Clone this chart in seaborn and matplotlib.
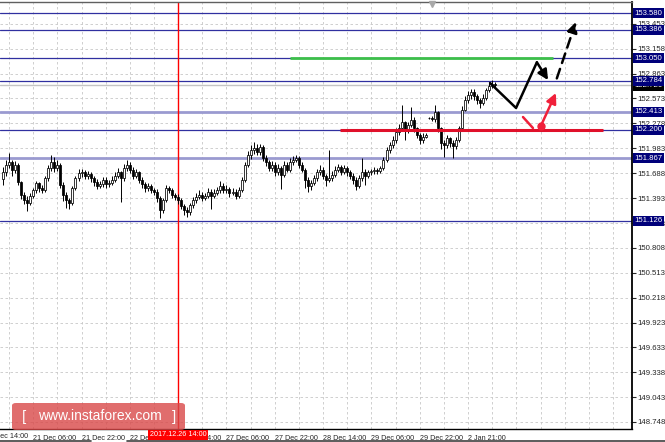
import matplotlib
matplotlib.use("Agg")
import matplotlib.pyplot as plt
import pandas as pd
import seaborn as sns
from matplotlib.patches import FancyBboxPatch
from matplotlib.lines import Line2D
from matplotlib.transforms import blended_transform_factory

# hourly candles (open = previous close)
closes = [
    151.70, 151.79, 151.82, 151.73, 151.79, 151.58, 151.43, 151.37, 151.34, 151.42,
    151.49, 151.57, 151.51, 151.49, 151.63, 151.75, 151.82, 151.75, 151.79, 151.55,
    151.43, 151.37, 151.34, 151.51, 151.63, 151.69, 151.70, 151.66, 151.68, 151.63,
    151.58, 151.54, 151.56, 151.61, 151.56, 151.57, 151.61, 151.66, 151.70, 151.63,
    151.75, 151.79, 151.73, 151.66, 151.70, 151.61, 151.56, 151.51, 151.54, 151.49,
    151.47, 151.40, 151.25, 151.37, 151.51, 151.49, 151.43, 151.41, 151.37, 151.30,
    151.25, 151.23, 151.31, 151.37, 151.41, 151.43, 151.40, 151.42, 151.47, 151.42,
    151.45, 151.49, 151.54, 151.49, 151.50, 151.45, 151.47, 151.42, 151.49, 151.61,
    151.79, 151.90, 151.96, 151.99, 151.94, 152.00, 151.87, 151.82, 151.75, 151.79,
    151.70, 151.75, 151.67, 151.79, 151.73, 151.82, 151.84, 151.87, 151.79, 151.73,
    151.61, 151.54, 151.57, 151.63, 151.70, 151.73, 151.66, 151.61, 151.63, 151.67,
    151.73, 151.76, 151.70, 151.75, 151.70, 151.66, 151.61, 151.54, 151.63, 151.70,
    151.66, 151.70, 151.71, 151.73, 151.71, 151.75, 151.84, 151.96, 152.02, 152.08,
    152.18, 152.22, 152.29, 152.20, 152.26, 152.32, 152.22, 152.14, 152.08, 152.12,
    152.14, 152.34, 152.33, 152.41, 152.22, 152.05, 152.02, 152.10, 152.05, 152.01,
    152.08, 152.22, 152.44, 152.55, 152.61, 152.65, 152.60, 152.55, 152.52, 152.58,
    152.67, 152.72, 152.74, 152.73,
]
highs = [
    151.76, 151.84, 151.93, 151.85, 151.83, 151.81, 151.60, 151.47, 151.42, 151.46,
    151.52, 151.60, 151.59, 151.55, 151.66, 151.79, 151.90, 151.88, 151.85, 151.81,
    151.58, 151.47, 151.40, 151.54, 151.66, 151.74, 151.74, 151.73, 151.72, 151.70,
    151.66, 151.62, 151.60, 151.65, 151.64, 151.61, 151.66, 151.70, 151.75, 151.72,
    151.80, 151.84, 151.82, 151.76, 151.74, 151.72, 151.64, 151.59, 151.57, 151.56,
    151.52, 151.50, 151.42, 151.40, 151.55, 151.54, 151.52, 151.46, 151.44, 151.40,
    151.33, 151.29, 151.34, 151.41, 151.45, 151.49, 151.47, 151.46, 151.52, 151.50,
    151.50, 151.53, 151.60, 151.57, 151.55, 151.53, 151.51, 151.50, 151.53, 151.65,
    151.82, 151.95, 152.02, 152.06, 152.03, 152.04, 152.02, 151.90, 151.85, 151.83,
    151.82, 151.80, 151.78, 151.83, 151.82, 151.87, 151.89, 151.90, 151.89, 151.82,
    151.75, 151.64, 151.61, 151.67, 151.74, 151.79, 151.76, 151.68, 151.96, 151.72,
    151.77, 151.80, 151.79, 151.79, 151.78, 151.73, 151.69, 151.64, 151.67, 151.87,
    151.74, 151.73, 151.74, 151.76, 151.75, 151.78, 151.88, 152.00, 152.06, 152.13,
    152.22, 152.27, 152.49, 152.31, 152.30, 152.47, 152.35, 152.24, 152.17, 152.16,
    152.17, 152.35, 152.36, 152.49, 152.43, 152.24, 152.08, 152.14, 152.12, 152.08,
    152.12, 152.25, 152.48, 152.60, 152.66, 152.69, 152.68, 152.63, 152.58, 152.62,
    152.70, 152.77, 152.79, 152.77,
]
lows = [
    151.55, 151.66, 151.75, 151.66, 151.69, 151.55, 151.38, 151.33, 151.24, 151.31,
    151.39, 151.46, 151.47, 151.45, 151.47, 151.60, 151.72, 151.70, 151.72, 151.52,
    151.36, 151.28, 151.27, 151.31, 151.49, 151.60, 151.65, 151.62, 151.62, 151.58,
    151.54, 151.50, 151.51, 151.53, 151.52, 151.53, 151.55, 151.59, 151.63, 151.35,
    151.60, 151.71, 151.69, 151.62, 151.63, 151.57, 151.52, 151.47, 151.48, 151.45,
    151.43, 151.35, 151.16, 151.22, 151.35, 151.46, 151.40, 151.37, 151.33, 151.26,
    151.20, 151.17, 151.20, 151.28, 151.34, 151.38, 151.36, 151.37, 151.39, 151.26,
    151.40, 151.43, 151.46, 151.45, 151.46, 151.41, 151.43, 151.38, 151.40, 151.47,
    151.58, 151.76, 151.86, 151.92, 151.90, 151.91, 151.83, 151.77, 151.71, 151.72,
    151.66, 151.67, 151.50, 151.64, 151.70, 151.70, 151.79, 151.82, 151.75, 151.70,
    151.52, 151.47, 151.49, 151.55, 151.60, 151.67, 151.62, 151.54, 151.58, 151.60,
    151.64, 151.70, 151.67, 151.68, 151.66, 151.62, 151.56, 151.49, 151.51, 151.60,
    151.55, 151.63, 151.67, 151.68, 151.68, 151.69, 151.73, 151.82, 151.93, 151.99,
    152.05, 152.14, 152.19, 152.08, 152.17, 152.23, 152.18, 152.10, 152.03, 152.05,
    152.10, 152.33, 152.31, 152.30, 152.18, 151.98, 151.88, 151.99, 152.00, 151.87,
    151.98, 152.06, 152.20, 152.42, 152.52, 152.57, 152.55, 152.51, 152.46, 152.49,
    152.56, 152.65, 152.70, 152.70,
]
first_open = 151.62
gap_opens = {141: 152.34}

levels_dark = [153.580, 153.386, 153.050, 152.784, 152.200, 151.126]
levels_light = [152.413, 151.867]
current_price = 152.726
price_ticks = [153.453, 153.158, 152.863, 152.573, 152.278, 151.983, 151.688, 151.393,
               151.098, 150.808, 150.513, 150.218, 149.923, 149.633, 149.338, 149.043, 148.748]

time_ticks = [-6, 10, 26, 42, 58, 74, 90, 106, 122, 138, 154]
time_labels = ["20 Dec 14:00", "21 Dec 06:00", "21 Dec 22:00", "22 Dec 14:00", "26 Dec 14:00",
               "27 Dec 06:00", "27 Dec 22:00", "28 Dec 14:00", "29 Dec 06:00", "29 Dec 22:00",
               "2 Jan 21:00"]
marker_idx = 58
marker_label = "2017.12.26 14:00"

# drawn forecast levels / arrows (candle index, price)
green_level, green_from, green_to = 153.050, 95.0, 182.1
red_level, red_from, red_to = 152.200, 111.6, 198.7
path_x = [161.3, 169.9, 176.8]
path_y = [152.755, 152.46, 153.00]
path_end = (180.5, 152.79)
dash_start, dash_end = (183.4, 152.81), (189.7, 153.476)
red_dash_x, red_dash_y = [172.2, 175.5], [152.353, 152.223]
red_dot = (178.1, 152.247)
red_arrow_end = (183.1, 152.637)

df = pd.DataFrame({"close": closes, "high": highs, "low": lows})
df["open"] = df["close"].shift(1).fillna(first_open)
for k, v in gap_opens.items():
    df.loc[k, "open"] = v
df["high"] = df[["high", "open", "close"]].max(axis=1)
df["low"] = df[["low", "open", "close"]].min(axis=1)
df["bull"] = df["close"] >= df["open"]

sns.set_style("white")
plt.rcParams["font.family"] = ["Liberation Sans", "DejaVu Sans"]

fig = plt.figure(figsize=(6.65, 4.42), dpi=100)
ax = fig.add_axes([0, 13 / 442, 632 / 665, 427 / 442])

# levels
ax.axhline(current_price, color="#c4c4c4", lw=1.0, zorder=1)
for lv in levels_light:
    ax.axhline(lv, color="#9a9ad0", lw=2.0, zorder=1)
for lv in levels_dark:
    ax.axhline(lv, color="#3030a0", lw=0.9, zorder=1)
ax.axvline(marker_idx, color="#ff0000", lw=1.0, zorder=1)

# candles
ax.vlines(df.index, df["low"], df["high"], color="black", lw=0.7, zorder=2)
body = (df["close"] - df["open"]).abs().clip(lower=0.006)
bottom = df[["open", "close"]].min(axis=1)
ax.bar(df.index, body, bottom=bottom, width=0.66,
       color=["white" if b else "black" for b in df["bull"]],
       edgecolor="black", linewidth=0.55, zorder=3)

# forecast drawing
ax.hlines(green_level, green_from, green_to, color="#3cbf4a", lw=2.0, zorder=4)
ax.hlines(red_level, red_from, red_to, color="#e0102a", lw=2.2, zorder=4)
sns.lineplot(x=path_x, y=path_y, sort=False, color="black", lw=1.8, ax=ax, zorder=5)
ax.annotate("", xy=path_end, xytext=(path_x[-1], path_y[-1]),
            arrowprops=dict(arrowstyle="-|>,head_length=0.6,head_width=0.3", color="black", lw=1.8,
                            shrinkA=0, shrinkB=0), zorder=5)
ax.annotate("", xy=dash_end, xytext=dash_start,
            arrowprops=dict(arrowstyle="-|>,head_length=0.6,head_width=0.3", color="black", lw=1.8,
                            linestyle=(0, (4, 2.5)), shrinkA=0, shrinkB=0), zorder=5)
ax.plot(red_dash_x, red_dash_y, color="#f0203a", lw=1.8, zorder=5)
ax.plot(*red_dot, "o", color="#f0203a", ms=5, zorder=6)
ax.annotate("", xy=red_arrow_end, xytext=red_dot,
            arrowprops=dict(arrowstyle="-|>,head_length=0.6,head_width=0.3", color="#f0203a", lw=1.8,
                            shrinkA=0, shrinkB=0), zorder=6)
ax.plot(142, 153.695, marker="v", color="#a8a8a8", ms=4, clip_on=False, zorder=6)

# ticks and grid; limits last, set_ticks widens the view otherwise
tick_fs = 5.2
ax.set_xticks(time_ticks[1:])
ax.set_xticks(range(2, 209, 8), minor=True)
ax.set_xticklabels(time_labels[1:], ha="left", fontsize=tick_fs)
ax.tick_params(axis="x", which="major", length=3, width=0.8, pad=1.5, color="black")
ax.tick_params(axis="x", which="minor", length=0)
ax.yaxis.tick_right()
ax.set_yticks(price_ticks)
ax.set_yticklabels([f"{p:.3f}" for p in price_ticks], fontsize=5.6)
ax.tick_params(axis="y", length=3, width=0.8, pad=1.2)
ax.grid(True, which="both", color="#c8c8c8", linestyle=(0, (3, 3)), linewidth=0.6)
ax.set_axisbelow(True)
ax.set_xlim(-1, 208.3)
ax.set_ylim(148.665, 153.713)

# first time label starts left of the chart and is cut by the figure edge
trx = blended_transform_factory(ax.transData, ax.transAxes)
ax.text(time_ticks[0], -4.5 / 427, time_labels[0], transform=trx, fontsize=tick_fs,
        ha="left", va="top", clip_on=False)

ax.spines["left"].set_visible(False)
ax.spines["right"].set_color("black")
ax.spines["right"].set_linewidth(1.3)
ax.spines["bottom"].set_color("black")
ax.spines["bottom"].set_linewidth(1.0)
ax.spines["top"].set_color("#606060")
ax.spines["top"].set_linewidth(1.0)

# right axis level boxes
tr = blended_transform_factory(ax.transAxes, ax.transData)
ax.text(1.004, current_price, f"{current_price:.3f}", transform=tr, fontsize=5.6, color="white",
        va="center", ha="left", clip_on=False, zorder=7,
        bbox=dict(boxstyle="square,pad=0.2", fc="black", ec="none"))
for lv in sorted(levels_dark + levels_light):
    ax.text(1.004, lv, f"{lv:.3f}", transform=tr, fontsize=5.6, color="white",
            va="center", ha="left", clip_on=False, zorder=8,
            bbox=dict(boxstyle="square,pad=0.2", fc="#00007a", ec="none"))

# time marker label
ax.text(marker_idx, -0.014, marker_label, transform=trx, fontsize=tick_fs, color="white",
        va="center", ha="center", clip_on=False, zorder=9,
        bbox=dict(boxstyle="square,pad=0.25", fc="#ff0000", ec="none"))

# watermark
fig.add_artist(FancyBboxPatch((12 / 665, 12 / 442), 173 / 665, 27 / 442,
                              boxstyle="round,pad=0,rounding_size=0.006",
                              transform=fig.transFigure, fc="#d94848", ec="none", alpha=0.8, zorder=10))
fig.text(22 / 665, 25.5 / 442, "[", color="white", fontsize=11, va="center", ha="left", zorder=11)
fig.text(100 / 665, 25.5 / 442, "www.instaforex.com", color="white", fontsize=10,
         va="center", ha="center", zorder=11)
fig.text(176 / 665, 25.5 / 442, "]", color="white", fontsize=11, va="center", ha="right", zorder=11)

# bottom strip
fig.add_artist(Line2D([0, 91 / 665], [1.5 / 442, 1.5 / 442], color="#404040", lw=1.2))
fig.add_artist(Line2D([127 / 665, 1], [1.5 / 442, 1.5 / 442], color="#404040", lw=1.2))

fig.savefig("out.png", dpi=100)
